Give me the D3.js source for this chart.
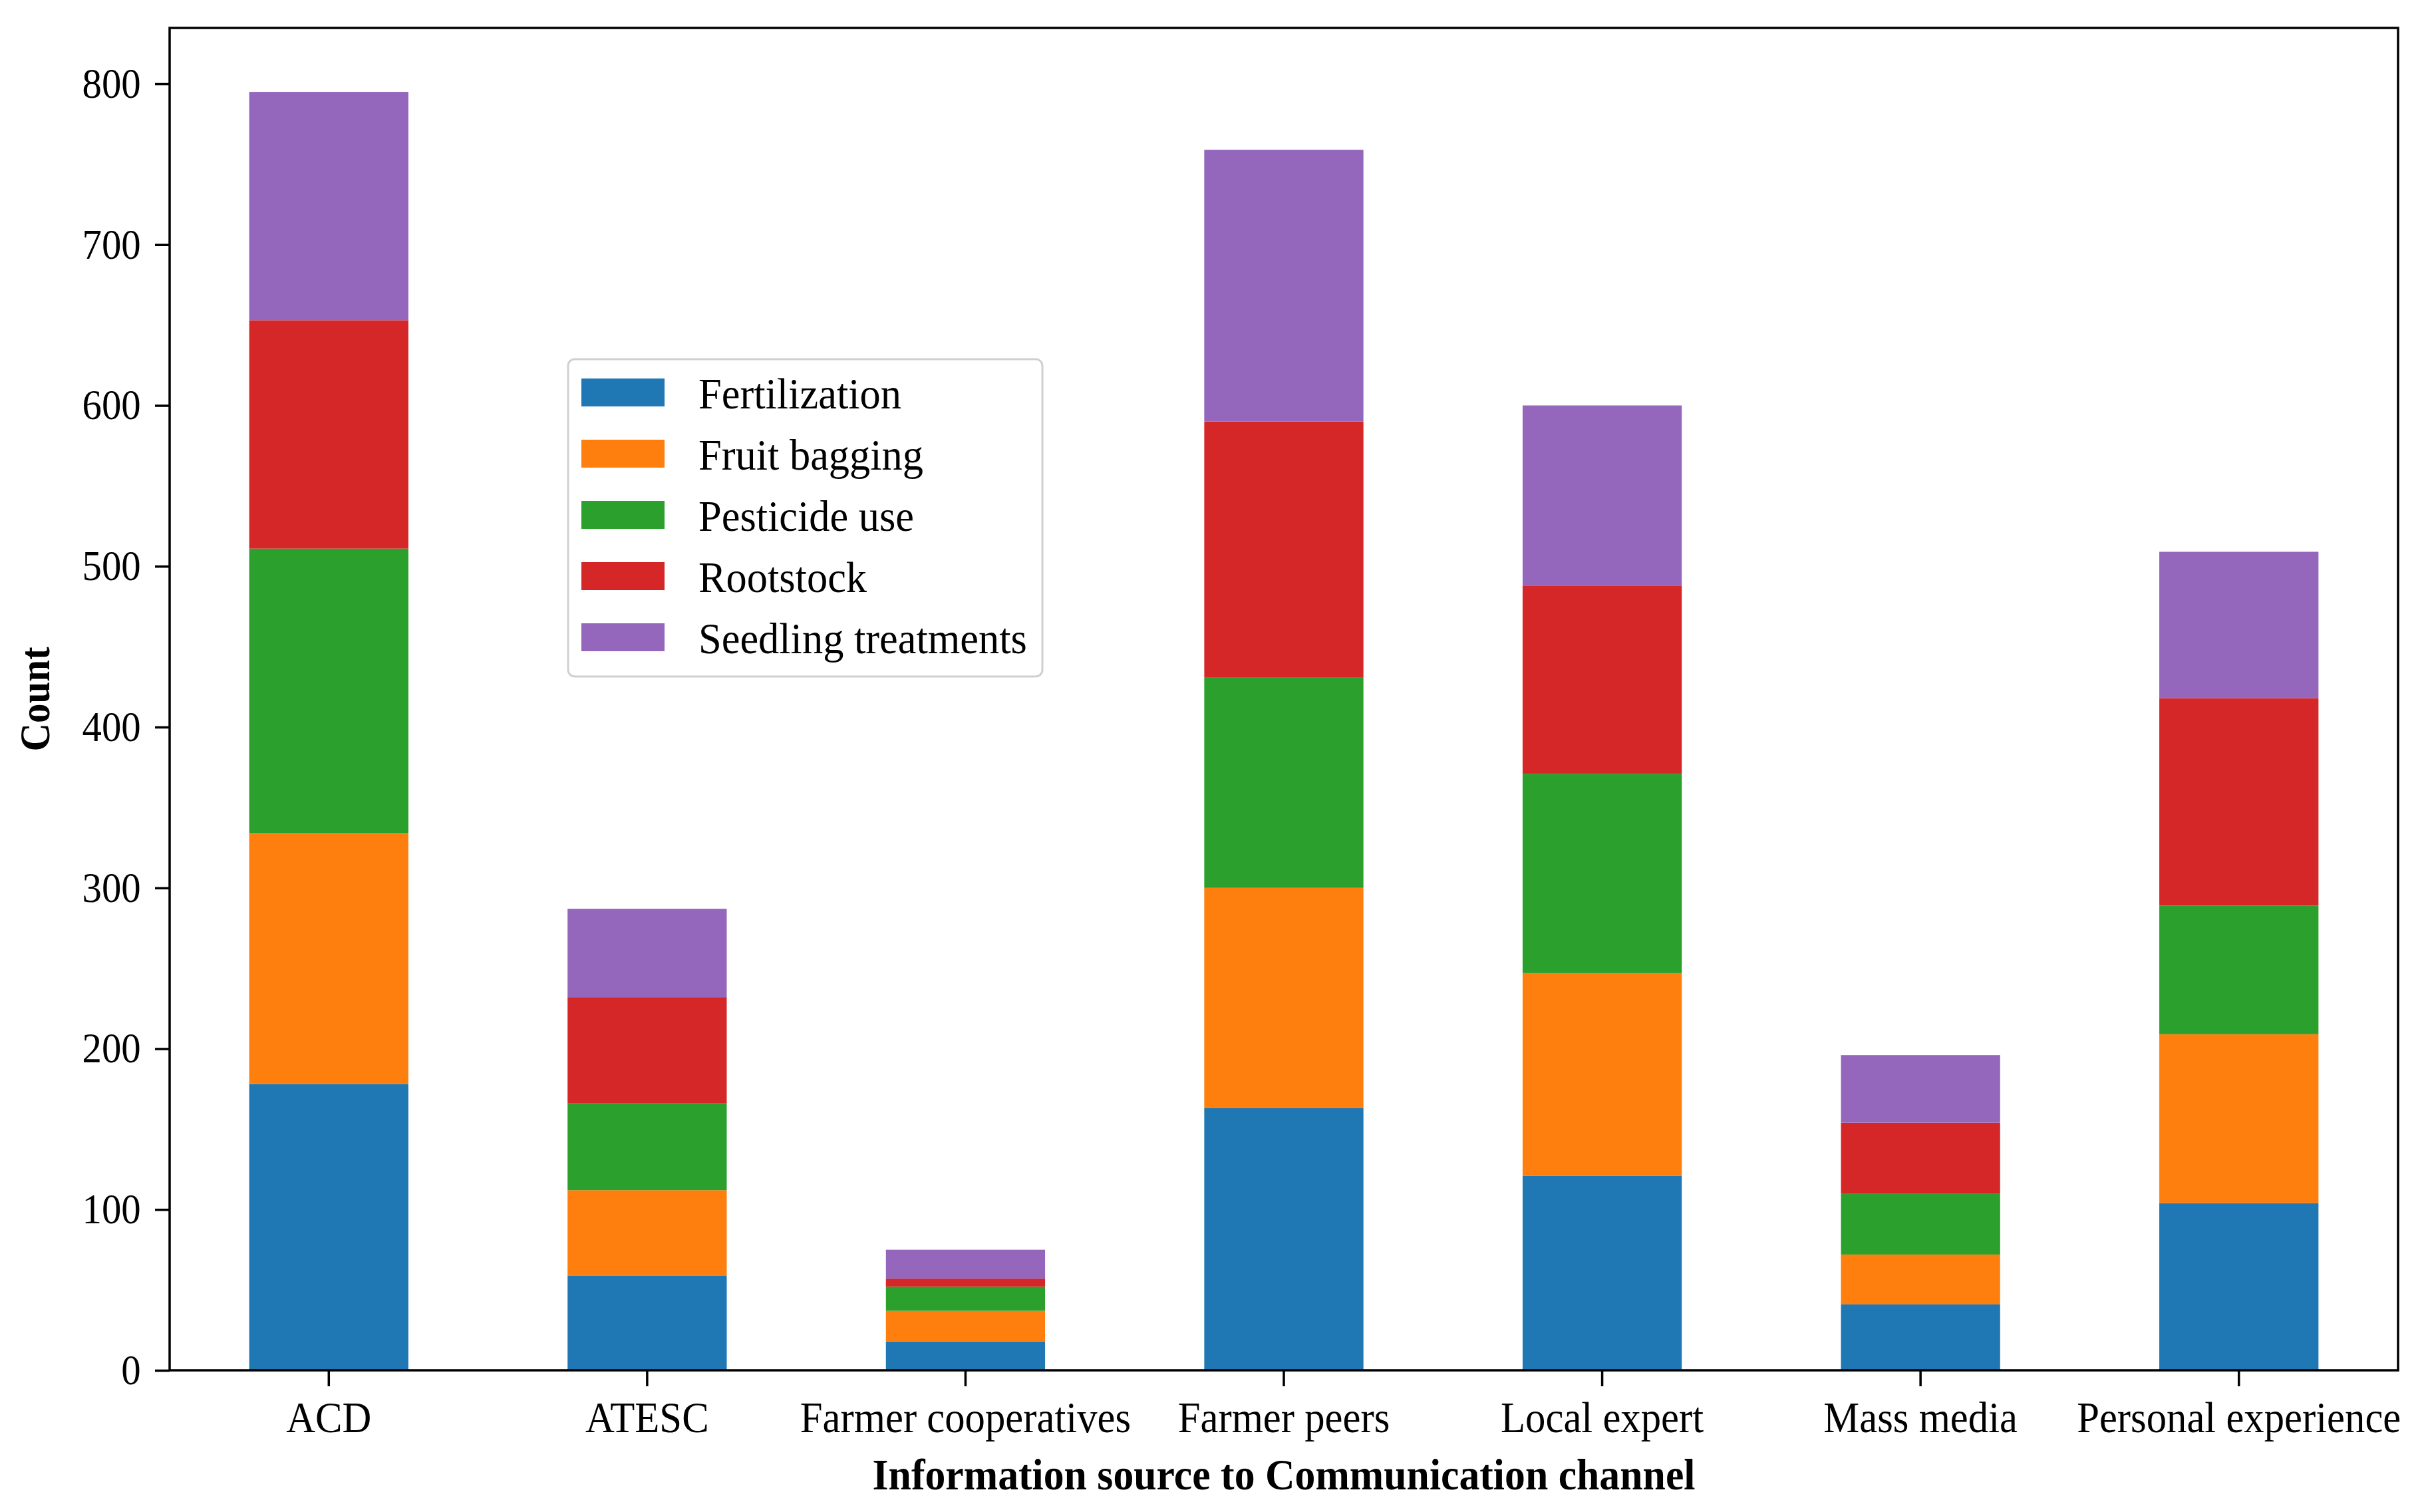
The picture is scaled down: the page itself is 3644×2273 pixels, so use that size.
<!DOCTYPE html>
<html>
<head>
  <meta charset="UTF-8">
  <title>Information source to Communication channel</title>
  <script src="https://d3js.org/d3.v7.min.js"></script>
  <style>
    body {
      margin: 0;
      background: #fff;
    }
    text {
      font-family: "Liberation Serif", "Times New Roman", serif;
      fill: #000;
    }
    .axis path, .axis line {
      stroke: #000;
      stroke-width: 3.5;
    }
  </style>
</head>
<body>
  <div id="chart"></div>
  <script>
    // data
    const categories = ["ACD", "ATESC", "Farmer cooperatives", "Farmer peers", "Local expert", "Mass media", "Personal experience"];
    const seriesNames = ["Fertilization", "Fruit bagging", "Pesticide use", "Rootstock", "Seedling treatments"];
    const fertilization = [178, 59, 18, 163, 121, 41, 104];
    const fruitBagging = [156, 53, 19, 137, 126, 31, 105];
    const pesticideUse = [177, 54, 15, 131, 124, 38, 80];
    const rootstock = [142, 66, 5, 159, 117, 44, 129];
    const seedlingTreatments = [142, 55, 18, 169, 112, 42, 91];
    const yTicks = [0, 100, 200, 300, 400, 500, 600, 700, 800];
    const colors = ["#1f77b4", "#ff7f0e", "#2ca02c", "#d62728", "#9467bd"];

    const W = 3644, H = 2273;
    const margin = { top: 42, right: 39, bottom: 213, left: 255 };
    const width = W - margin.left - margin.right;
    const height = H - margin.top - margin.bottom;
    const squeeze = 0.92; // text in the picture is a bit narrow

    const seriesValues = [fertilization, fruitBagging, pesticideUse, rootstock, seedlingTreatments];
    const table = categories.map((c, i) => {
      const row = { category: c };
      seriesNames.forEach((s, j) => { row[s] = seriesValues[j][i]; });
      return row;
    });

    const stacked = d3.stack().keys(seriesNames)(table);
    const maxTotal = d3.max(table, d => d3.sum(seriesNames, s => d[s]));

    const x = d3.scaleBand()
      .domain(categories)
      .range([0, width])
      .paddingInner(0.5)
      .paddingOuter(0.25);

    const y = d3.scaleLinear()
      .domain([0, maxTotal * 1.05])
      .range([height, 0]);

    const svg = d3.select("#chart")
      .append("svg")
      .attr("width", W)
      .attr("height", H)
      .style("display", "block");

    svg.append("rect").attr("width", W).attr("height", H).attr("fill", "#fff");

    const g = svg.append("g")
      .attr("transform", `translate(${margin.left}, ${margin.top})`);

    // bars
    g.selectAll(".layer")
      .data(stacked)
      .enter()
      .append("g")
      .attr("class", "layer")
      .attr("fill", (d, i) => colors[i])
      .selectAll("rect")
      .data(d => d)
      .enter()
      .append("rect")
      .attr("x", d => x(d.data.category))
      .attr("y", d => y(d[1]))
      .attr("width", x.bandwidth())
      .attr("height", d => y(d[0]) - y(d[1]));

    // axes
    const xAxis = g.append("g")
      .attr("class", "axis")
      .attr("transform", `translate(0, ${height})`)
      .call(d3.axisBottom(x).tickSize(24).tickPadding(22).tickSizeOuter(0));
    xAxis.select(".domain").remove();
    xAxis.selectAll("text")
      .style("font-size", "66px")
      .attr("transform", `scale(${squeeze},1)`);

    const yAxis = g.append("g")
      .attr("class", "axis")
      .call(d3.axisLeft(y).tickValues(yTicks).tickSize(22).tickPadding(25).tickSizeOuter(0));
    yAxis.select(".domain").remove();
    yAxis.selectAll("text")
      .style("font-size", "64px")
      .attr("transform", `scale(${squeeze},1)`);

    // frame
    g.append("rect")
      .attr("width", width)
      .attr("height", height)
      .attr("fill", "none")
      .attr("stroke", "#000")
      .attr("stroke-width", 3.5);

    // axis titles
    g.append("text")
      .attr("transform", `translate(${width / 2}, ${height + 179}) scale(0.95,1)`)
      .attr("text-anchor", "middle")
      .style("font-size", "65px")
      .style("font-weight", "bold")
      .text("Information source to Communication channel");

    g.append("text")
      .attr("transform", `translate(${74 - margin.left}, ${height / 2}) rotate(-90) scale(${squeeze},1)`)
      .attr("text-anchor", "middle")
      .style("font-size", "64px")
      .style("font-weight", "bold")
      .text("Count");

    // legend
    const legend = g.append("g")
      .attr("transform", `translate(${854 - margin.left}, ${540 - margin.top})`);

    legend.append("rect")
      .attr("width", 713)
      .attr("height", 477)
      .attr("rx", 10)
      .attr("fill", "#fff")
      .attr("fill-opacity", 0.8)
      .attr("stroke", "#d0d0d0")
      .attr("stroke-width", 3);

    const items = legend.selectAll(".item")
      .data(seriesNames)
      .enter()
      .append("g")
      .attr("class", "item")
      .attr("transform", (d, i) => `translate(20, ${50 + i * 92})`);

    items.append("rect")
      .attr("y", -21)
      .attr("width", 125)
      .attr("height", 42)
      .attr("fill", (d, i) => colors[i]);

    items.append("text")
      .attr("transform", "translate(176, 24) scale(0.96,1)")
      .style("font-size", "65px")
      .text(d => d);
  </script>
</body>
</html>
